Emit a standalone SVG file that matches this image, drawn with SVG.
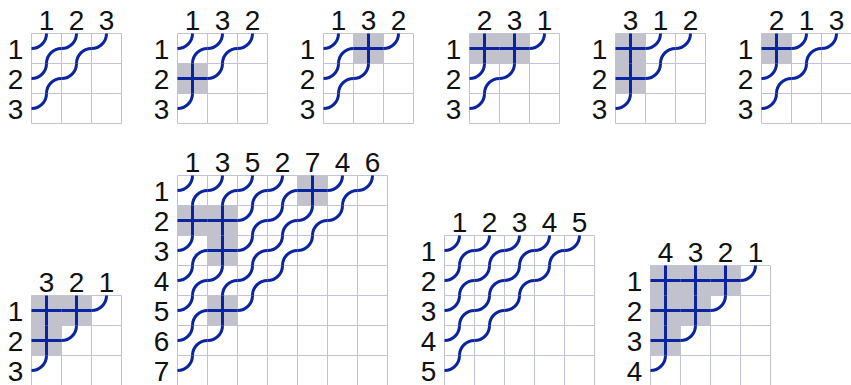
<svg xmlns="http://www.w3.org/2000/svg" width="851" height="385" viewBox="0 0 851 385">
<style>
.bg{fill:#ffffff}
.grid{fill:none;stroke:#c2c2d6;stroke-width:1}
.sh{fill:#c2c2cc}
.p{fill:none;stroke:#0a24a0;stroke-width:3}
.lb{font-family:"Liberation Sans",Arial,sans-serif;font-size:28px;fill:#111111;text-anchor:middle}
</style>
<defs>
<rect id="s" width="30" height="30" class="sh"/>
<path id="e" class="p" d="M15,0A15,15 0 0 1 0,15M15,30A15,15 0 0 1 30,15"/>
<path id="a" class="p" d="M15,0A15,15 0 0 1 0,15"/>
<path id="x" class="p" d="M0,15H30M15,0V30"/>
<path id="g3" class="grid" d="M0,0H90M0,30H90M0,60H90M0,90H90M0,0V90M30,0V90M60,0V90M90,0V90"/>
<path id="g4" class="grid" d="M0,0H120M0,30H120M0,60H120M0,90H120M0,120H120M0,0V120M30,0V120M60,0V120M90,0V120M120,0V120"/>
<path id="g5" class="grid" d="M0,0H150M0,30H150M0,60H150M0,90H150M0,120H150M0,150H150M0,0V150M30,0V150M60,0V150M90,0V150M120,0V150M150,0V150"/>
<path id="g7" class="grid" d="M0,0H210M0,30H210M0,60H210M0,90H210M0,120H210M0,150H210M0,180H210M0,210H210M0,0V210M30,0V210M60,0V210M90,0V210M120,0V210M150,0V210M180,0V210M210,0V210"/>
</defs>
<rect class="bg" width="851" height="385"/>

<g id="d1" transform="translate(31.5,33.5)">
<use href="#g3"/>
<use href="#e" x="0" y="0"/><use href="#e" x="30" y="0"/><use href="#e" x="0" y="30"/>
<use href="#a" x="60" y="0"/><use href="#a" x="30" y="30"/><use href="#a" x="0" y="60"/>
<text class="lb" x="15" y="-4">1</text><text class="lb" x="45" y="-4">2</text><text class="lb" x="75" y="-4">3</text>
<text class="lb" x="-16" y="25">1</text><text class="lb" x="-16" y="55">2</text><text class="lb" x="-16" y="85">3</text>
</g>

<g id="d2" transform="translate(177.5,33.5)">
<use href="#s" x="0" y="30"/>
<use href="#g3"/>
<use href="#e" x="0" y="0"/><use href="#e" x="30" y="0"/><use href="#x" x="0" y="30"/>
<use href="#a" x="60" y="0"/><use href="#a" x="30" y="30"/><use href="#a" x="0" y="60"/>
<text class="lb" x="15" y="-4">1</text><text class="lb" x="45" y="-4">3</text><text class="lb" x="75" y="-4">2</text>
<text class="lb" x="-16" y="25">1</text><text class="lb" x="-16" y="55">2</text><text class="lb" x="-16" y="85">3</text>
</g>

<g id="d3" transform="translate(323.5,33.5)">
<use href="#s" x="30" y="0"/>
<use href="#g3"/>
<use href="#e" x="0" y="0"/><use href="#x" x="30" y="0"/><use href="#e" x="0" y="30"/>
<use href="#a" x="60" y="0"/><use href="#a" x="30" y="30"/><use href="#a" x="0" y="60"/>
<text class="lb" x="15" y="-4">1</text><text class="lb" x="45" y="-4">3</text><text class="lb" x="75" y="-4">2</text>
<text class="lb" x="-16" y="25">1</text><text class="lb" x="-16" y="55">2</text><text class="lb" x="-16" y="85">3</text>
</g>

<g id="d4" transform="translate(469.5,33.5)">
<use href="#s" x="0" y="0"/><use href="#s" x="30" y="0"/>
<use href="#g3"/>
<use href="#x" x="0" y="0"/><use href="#x" x="30" y="0"/><use href="#e" x="0" y="30"/>
<use href="#a" x="60" y="0"/><use href="#a" x="30" y="30"/><use href="#a" x="0" y="60"/>
<text class="lb" x="15" y="-4">2</text><text class="lb" x="45" y="-4">3</text><text class="lb" x="75" y="-4">1</text>
<text class="lb" x="-16" y="25">1</text><text class="lb" x="-16" y="55">2</text><text class="lb" x="-16" y="85">3</text>
</g>

<g id="d5" transform="translate(615.5,33.5)">
<use href="#s" x="0" y="0"/><use href="#s" x="0" y="30"/>
<use href="#g3"/>
<use href="#x" x="0" y="0"/><use href="#e" x="30" y="0"/><use href="#x" x="0" y="30"/>
<use href="#a" x="60" y="0"/><use href="#a" x="30" y="30"/><use href="#a" x="0" y="60"/>
<text class="lb" x="15" y="-4">3</text><text class="lb" x="45" y="-4">1</text><text class="lb" x="75" y="-4">2</text>
<text class="lb" x="-16" y="25">1</text><text class="lb" x="-16" y="55">2</text><text class="lb" x="-16" y="85">3</text>
</g>

<g id="d6" transform="translate(761.5,33.5)">
<use href="#s" x="0" y="0"/>
<use href="#g3"/>
<use href="#x" x="0" y="0"/><use href="#e" x="30" y="0"/><use href="#e" x="0" y="30"/>
<use href="#a" x="60" y="0"/><use href="#a" x="30" y="30"/><use href="#a" x="0" y="60"/>
<text class="lb" x="15" y="-4">2</text><text class="lb" x="45" y="-4">1</text><text class="lb" x="75" y="-4">3</text>
<text class="lb" x="-16" y="25">1</text><text class="lb" x="-16" y="55">2</text><text class="lb" x="-16" y="85">3</text>
</g>

<g id="d7" transform="translate(31.5,295.5)">
<use href="#s" x="0" y="0"/><use href="#s" x="30" y="0"/><use href="#s" x="0" y="30"/>
<use href="#g3"/>
<use href="#x" x="0" y="0"/><use href="#x" x="30" y="0"/><use href="#x" x="0" y="30"/>
<use href="#a" x="60" y="0"/><use href="#a" x="30" y="30"/><use href="#a" x="0" y="60"/>
<text class="lb" x="15" y="-4">3</text><text class="lb" x="45" y="-4">2</text><text class="lb" x="75" y="-4">1</text>
<text class="lb" x="-16" y="25">1</text><text class="lb" x="-16" y="55">2</text><text class="lb" x="-16" y="85">3</text>
</g>

<g id="d8" transform="translate(177.5,175.5)">
<use href="#s" x="120" y="0"/><use href="#s" x="0" y="30"/><use href="#s" x="30" y="30"/><use href="#s" x="30" y="60"/><use href="#s" x="30" y="120"/>
<use href="#g7"/>
<use href="#e" x="0" y="0"/><use href="#e" x="30" y="0"/><use href="#e" x="60" y="0"/><use href="#e" x="90" y="0"/><use href="#x" x="120" y="0"/><use href="#e" x="150" y="0"/>
<use href="#x" x="0" y="30"/><use href="#x" x="30" y="30"/><use href="#e" x="60" y="30"/><use href="#e" x="90" y="30"/><use href="#e" x="120" y="30"/>
<use href="#e" x="0" y="60"/><use href="#x" x="30" y="60"/><use href="#e" x="60" y="60"/><use href="#e" x="90" y="60"/>
<use href="#e" x="0" y="90"/><use href="#e" x="30" y="90"/><use href="#e" x="60" y="90"/>
<use href="#e" x="0" y="120"/><use href="#x" x="30" y="120"/>
<use href="#e" x="0" y="150"/>
<use href="#a" x="180" y="0"/><use href="#a" x="150" y="30"/><use href="#a" x="120" y="60"/><use href="#a" x="90" y="90"/><use href="#a" x="60" y="120"/><use href="#a" x="30" y="150"/><use href="#a" x="0" y="180"/>
<text class="lb" x="15" y="-4">1</text><text class="lb" x="45" y="-4">3</text><text class="lb" x="75" y="-4">5</text><text class="lb" x="105" y="-4">2</text><text class="lb" x="135" y="-4">7</text><text class="lb" x="165" y="-4">4</text><text class="lb" x="195" y="-4">6</text>
<text class="lb" x="-16" y="25">1</text><text class="lb" x="-16" y="55">2</text><text class="lb" x="-16" y="85">3</text><text class="lb" x="-16" y="115">4</text><text class="lb" x="-16" y="145">5</text><text class="lb" x="-16" y="175">6</text><text class="lb" x="-16" y="205">7</text>
</g>

<g id="d9" transform="translate(444.5,235.5)">
<use href="#g5"/>
<use href="#e" x="0" y="0"/><use href="#e" x="30" y="0"/><use href="#e" x="60" y="0"/><use href="#e" x="90" y="0"/>
<use href="#e" x="0" y="30"/><use href="#e" x="30" y="30"/><use href="#e" x="60" y="30"/>
<use href="#e" x="0" y="60"/><use href="#e" x="30" y="60"/>
<use href="#e" x="0" y="90"/>
<use href="#a" x="120" y="0"/><use href="#a" x="90" y="30"/><use href="#a" x="60" y="60"/><use href="#a" x="30" y="90"/><use href="#a" x="0" y="120"/>
<text class="lb" x="15" y="-4">1</text><text class="lb" x="45" y="-4">2</text><text class="lb" x="75" y="-4">3</text><text class="lb" x="105" y="-4">4</text><text class="lb" x="135" y="-4">5</text>
<text class="lb" x="-16" y="25">1</text><text class="lb" x="-16" y="55">2</text><text class="lb" x="-16" y="85">3</text><text class="lb" x="-16" y="115">4</text><text class="lb" x="-16" y="145">5</text>
</g>

<g id="d10" transform="translate(650.5,265.5)">
<use href="#s" x="0" y="0"/><use href="#s" x="30" y="0"/><use href="#s" x="60" y="0"/><use href="#s" x="0" y="30"/><use href="#s" x="30" y="30"/><use href="#s" x="0" y="60"/>
<use href="#g4"/>
<use href="#x" x="0" y="0"/><use href="#x" x="30" y="0"/><use href="#x" x="60" y="0"/>
<use href="#x" x="0" y="30"/><use href="#x" x="30" y="30"/>
<use href="#x" x="0" y="60"/>
<use href="#a" x="90" y="0"/><use href="#a" x="60" y="30"/><use href="#a" x="30" y="60"/><use href="#a" x="0" y="90"/>
<text class="lb" x="15" y="-4">4</text><text class="lb" x="45" y="-4">3</text><text class="lb" x="75" y="-4">2</text><text class="lb" x="105" y="-4">1</text>
<text class="lb" x="-16" y="25">1</text><text class="lb" x="-16" y="55">2</text><text class="lb" x="-16" y="85">3</text><text class="lb" x="-16" y="115">4</text>
</g>
</svg>
